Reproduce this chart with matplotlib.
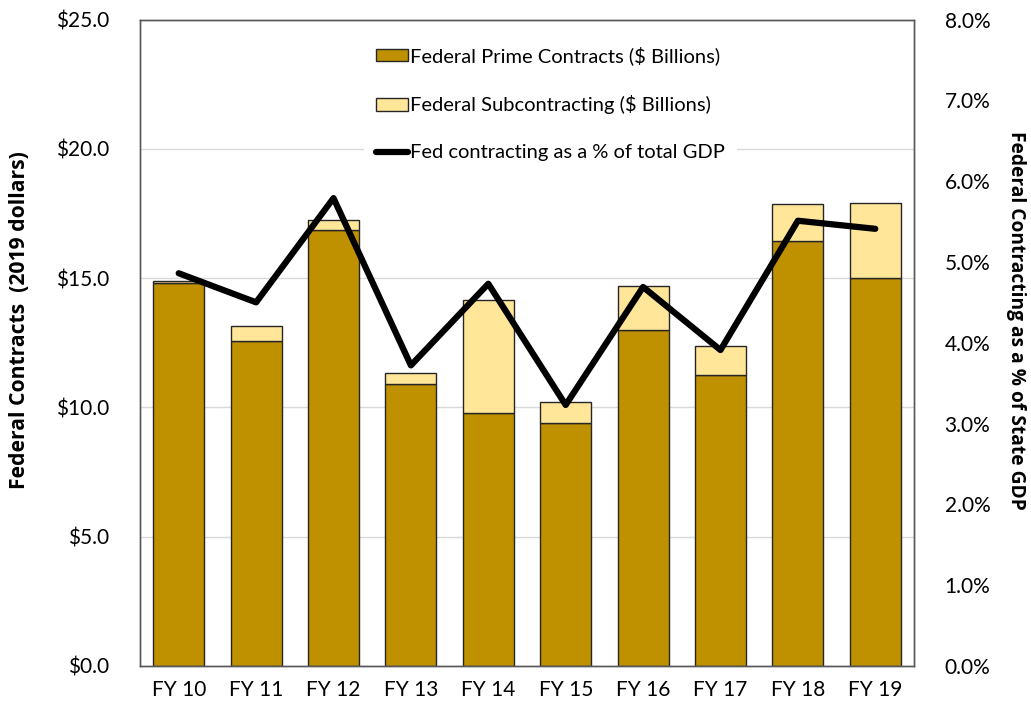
import numpy as np
import matplotlib.pyplot as plt
from matplotlib.ticker import FuncFormatter

plt.rcParams['font.family'] = ['Lato', 'DejaVu Sans']

# Data
years = ['FY 10', 'FY 11', 'FY 12', 'FY 13', 'FY 14', 'FY 15', 'FY 16', 'FY 17', 'FY 18', 'FY 19']
prime = [14.82, 12.55, 16.86, 10.89, 9.77, 9.41, 12.99, 11.25, 16.45, 15.02]
total = [14.90, 13.13, 17.25, 11.34, 14.15, 10.21, 14.69, 12.36, 17.88, 17.91]
subcontract = [t - p for t, p in zip(total, prime)]
pct_gdp = [4.86, 4.50, 5.79, 3.72, 4.73, 3.23, 4.69, 3.91, 5.51, 5.41]

prime_color = '#bf9000'
sub_color = '#ffe699'
edge = '#262626'

fig = plt.figure(figsize=(10.31, 7.10), dpi=100)
ax = fig.add_axes([0.1358, 0.062, 0.7507, 0.9105])
x = np.arange(len(years))

b1 = ax.bar(x, prime, width=0.66, color=prime_color, edgecolor=edge, linewidth=1.0,
            label='Federal Prime Contracts ($ Billions)', zorder=2)
b2 = ax.bar(x, subcontract, bottom=prime, width=0.66, color=sub_color, edgecolor=edge,
            linewidth=1.0, label='Federal Subcontracting ($ Billions)', zorder=2)

ax.set_ylim(0, 25)
ax.set_xlim(-0.5, len(years) - 0.5)
ax.set_yticks(np.arange(0, 26, 5))
ax.yaxis.set_major_formatter(FuncFormatter(lambda v, p: f'${v:.1f}'))
ax.grid(axis='y', color='#d9d9d9', linewidth=1.0, zorder=0)
ax.set_axisbelow(True)
ax.set_xticks(x)
ax.set_xticklabels(years)
ax.tick_params(axis='both', length=0, labelsize=15, pad=10)
ax.tick_params(axis='y', pad=22)
ax.set_ylabel('Federal Contracts  (2019 dollars)', fontsize=15.2, fontweight='bold',
              family=['Open Sans', 'DejaVu Sans'])
ax.yaxis.set_label_coords(-0.142, 0.535)

ax2 = ax.twinx()
line, = ax2.plot(x, pct_gdp, color='black', linewidth=4.5, solid_capstyle='round',
                 label='Fed contracting as a % of total GDP', zorder=3)
ax2.set_ylim(0, 8)
ax2.set_yticks(np.arange(0, 8.1, 1))
ax2.yaxis.set_major_formatter(FuncFormatter(lambda v, p: f'{v:.1f}%'))
ax2.tick_params(axis='y', length=0, labelsize=15, pad=22)
ax2.set_ylabel('Federal Contracting as a % of State GDP', fontsize=13.8, fontweight='bold',
               family=['Open Sans', 'DejaVu Sans'], rotation=270)
ax2.yaxis.set_label_coords(1.145, 0.534)

for a in (ax, ax2):
    for s in a.spines.values():
        s.set_color('#595959')
        s.set_linewidth(1.0)

leg = ax2.legend(handles=[b1, b2, line], loc='upper center', bbox_to_anchor=(0.53, 0.993),
                 frameon=True, fontsize=14.5, labelspacing=1.5, handlelength=1.6,
                 handleheight=0.6, handletextpad=0.1, borderpad=0.6, fancybox=False)
leg.get_frame().set_edgecolor('none')
leg.get_frame().set_facecolor('white')
leg.get_frame().set_alpha(1.0)

fig.savefig('out.png', dpi=100)
